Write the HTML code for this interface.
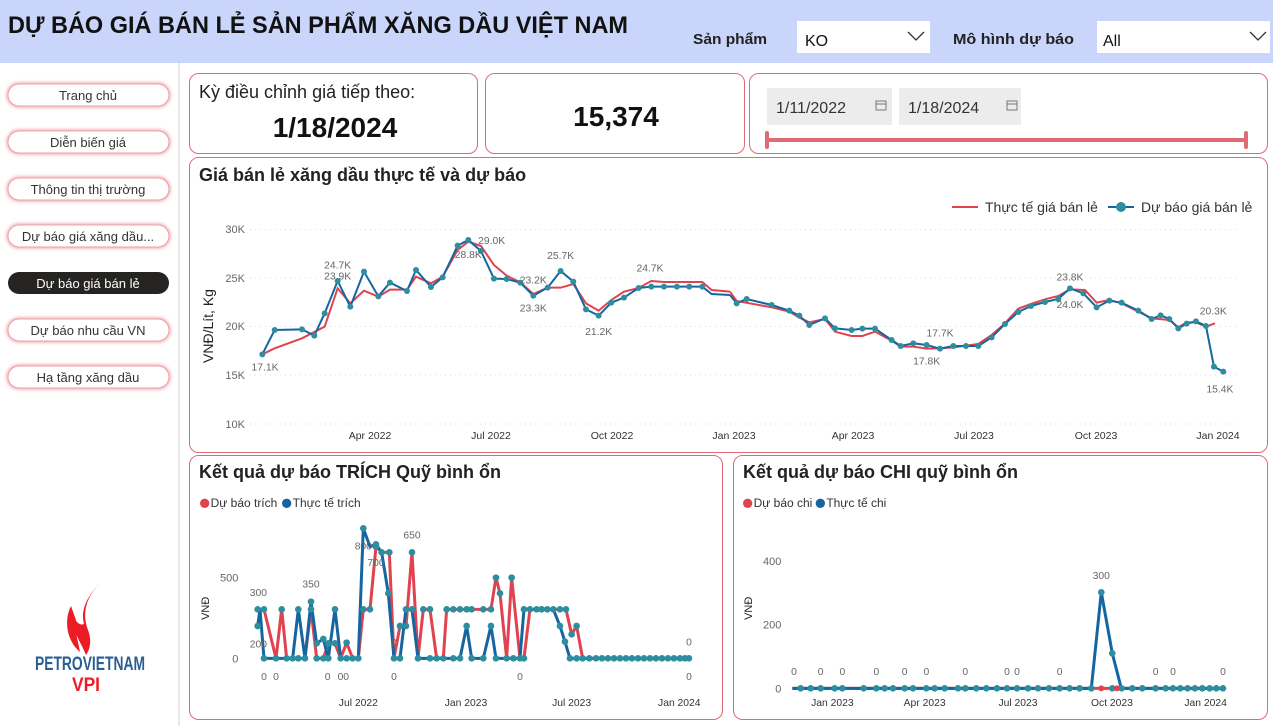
<!DOCTYPE html>
<html><head><meta charset="utf-8"><style>
html,body{margin:0;padding:0;background:#fff;}
svg{display:block;font-family:"Liberation Sans","DejaVu Sans",sans-serif;}
</style></head><body>
<svg width="1273" height="726" viewBox="0 0 1273 726" xmlns="http://www.w3.org/2000/svg">
<defs>
<filter id="glow" x="-10%" y="-40%" width="120%" height="180%"><feGaussianBlur stdDeviation="1.5"/></filter>
</defs>
<rect width="1273" height="726" fill="#fff"/>
<rect x="0" y="0" width="1273" height="63" fill="#c9d5fb"/>
<text x="8" y="33" font-size="24" font-weight="bold" fill="#111" textLength="620" lengthAdjust="spacingAndGlyphs">DỰ BÁO GIÁ BÁN LẺ SẢN PHẨM XĂNG DẦU VIỆT NAM</text>
<text x="693" y="44" font-size="15" font-weight="bold" fill="#222" textLength="74" lengthAdjust="spacingAndGlyphs">Sản phẩm</text>
<rect x="797" y="21" width="133" height="32" fill="#fff"/>
<text x="805" y="46" font-size="16" fill="#111">KO</text>
<polyline points="908,32 916,40 924,32" fill="none" stroke="#333" stroke-width="1.3"/>
<text x="953" y="44" font-size="15" font-weight="bold" fill="#222" textLength="121" lengthAdjust="spacingAndGlyphs">Mô hình dự báo</text>
<rect x="1097" y="21" width="173" height="32" fill="#fff"/>
<text x="1103" y="46" font-size="16" fill="#111">All</text>
<polyline points="1250,32 1258,40 1266,32" fill="none" stroke="#333" stroke-width="1.3"/>
<line x1="179" y1="63" x2="179" y2="726" stroke="#e8e8e8" stroke-width="2"/>
<g font-size="13" text-anchor="middle" fill="#333">
<g><rect x="8" y="84" width="161" height="22" rx="11" fill="none" stroke="#f2a0a8" stroke-width="3" filter="url(#glow)"/><rect x="8" y="84" width="161" height="22" rx="11" fill="#fff" stroke="#eba0a8"/><text x="88" y="100">Trang chủ</text></g>
<g><rect x="8" y="131" width="161" height="22" rx="11" fill="none" stroke="#f2a0a8" stroke-width="3" filter="url(#glow)"/><rect x="8" y="131" width="161" height="22" rx="11" fill="#fff" stroke="#eba0a8"/><text x="88" y="147">Diễn biến giá</text></g>
<g><rect x="8" y="178" width="161" height="22" rx="11" fill="none" stroke="#f2a0a8" stroke-width="3" filter="url(#glow)"/><rect x="8" y="178" width="161" height="22" rx="11" fill="#fff" stroke="#eba0a8"/><text x="88" y="194">Thông tin thị trường</text></g>
<g><rect x="8" y="225" width="161" height="22" rx="11" fill="none" stroke="#f2a0a8" stroke-width="3" filter="url(#glow)"/><rect x="8" y="225" width="161" height="22" rx="11" fill="#fff" stroke="#eba0a8"/><text x="88" y="241">Dự báo giá xăng dầu...</text></g>
<g><rect x="8" y="272" width="161" height="22" rx="11" fill="#252423"/><text x="88" y="288" fill="#fff">Dự báo giá bán lẻ</text></g>
<g><rect x="8" y="319" width="161" height="22" rx="11" fill="none" stroke="#f2a0a8" stroke-width="3" filter="url(#glow)"/><rect x="8" y="319" width="161" height="22" rx="11" fill="#fff" stroke="#eba0a8"/><text x="88" y="335">Dự báo nhu cầu VN</text></g>
<g><rect x="8" y="366" width="161" height="22" rx="11" fill="none" stroke="#f2a0a8" stroke-width="3" filter="url(#glow)"/><rect x="8" y="366" width="161" height="22" rx="11" fill="#fff" stroke="#eba0a8"/><text x="88" y="382">Hạ tầng xăng dầu</text></g>
</g>
<path d="M100,583 C85,598 82,615 88,630 C92,640 90,650 86,655 C80,640 72,632 73,616 C76,622 80,626 84,624 C80,610 88,595 100,583 Z" fill="#ed1c24"/>
<path d="M71,606 C64,620 66,640 80,652 C78,640 74,630 76,620 Z" fill="#ed1c24"/>
<text x="90" y="670" font-size="19" font-weight="bold" fill="#2a5f93" text-anchor="middle" textLength="110" lengthAdjust="spacingAndGlyphs">PETROVIETNAM</text>
<text x="86" y="691" font-size="19" font-weight="bold" fill="#ed1c24" text-anchor="middle" textLength="28" lengthAdjust="spacingAndGlyphs">VPI</text>

<rect x="189.5" y="73.5" width="288" height="80" rx="9" fill="#fff" stroke="#e06a75"/>
<text x="199" y="98" font-size="18" fill="#222">Kỳ điều chỉnh giá tiếp theo:</text>
<text x="335" y="137" font-size="28" font-weight="bold" fill="#111" text-anchor="middle">1/18/2024</text>
<rect x="485.5" y="73.5" width="259" height="80" rx="9" fill="#fff" stroke="#e06a75"/>
<text x="616" y="126" font-size="28" font-weight="bold" fill="#111" text-anchor="middle">15,374</text>
<rect x="749.5" y="73.5" width="518" height="80" rx="9" fill="#fff" stroke="#e06a75"/>
<rect x="767" y="88" width="125" height="37" fill="#ececec"/>
<text x="776" y="113" font-size="16" fill="#333">1/11/2022</text>
<rect x="876" y="101" width="10" height="9" fill="none" stroke="#777"/><line x1="876" y1="104" x2="886" y2="104" stroke="#777"/>
<rect x="899" y="88" width="122" height="37" fill="#ececec"/>
<text x="908" y="113" font-size="16" fill="#333">1/18/2024</text>
<rect x="1007" y="101" width="10" height="9" fill="none" stroke="#777"/><line x1="1007" y1="104" x2="1017" y2="104" stroke="#777"/>
<line x1="767" y1="140" x2="1246" y2="140" stroke="#e06b73" stroke-width="4"/>
<line x1="767" y1="133" x2="767" y2="147" stroke="#e06b73" stroke-width="4" stroke-linecap="round"/>
<line x1="1246" y1="133" x2="1246" y2="147" stroke="#e06b73" stroke-width="4" stroke-linecap="round"/>

<rect x="189.5" y="157.5" width="1078" height="295" rx="9" fill="#fff" stroke="#e06a75"/>
<text x="199" y="181" font-size="18" font-weight="bold" fill="#222">Giá bán lẻ xăng dầu thực tế và dự báo</text>
<line x1="952" y1="207" x2="978" y2="207" stroke="#e0434f" stroke-width="2"/>
<text x="985" y="212" font-size="14" fill="#333">Thực tế giá bán lẻ</text>
<line x1="1108" y1="207" x2="1134" y2="207" stroke="#1566a0" stroke-width="2"/>
<circle cx="1121" cy="207" r="5" fill="#2c8e9f"/>
<text x="1141" y="212" font-size="14" fill="#333">Dự báo giá bán lẻ</text>
<g stroke="#ddd" stroke-dasharray="1,4">
<line x1="250" y1="229.5" x2="1240" y2="229.5"/><line x1="250" y1="278" x2="1240" y2="278"/><line x1="250" y1="326.5" x2="1240" y2="326.5"/><line x1="250" y1="375" x2="1240" y2="375"/><line x1="250" y1="424" x2="1240" y2="424"/>
</g>
<g font-size="11" fill="#666" text-anchor="end">
<text x="245" y="233">30K</text><text x="245" y="282">25K</text><text x="245" y="330">20K</text><text x="245" y="379">15K</text><text x="245" y="428">10K</text>
</g>
<text transform="translate(213,326) rotate(-90)" font-size="14" fill="#222" text-anchor="middle">VNĐ/Lít, Kg</text>
<g font-size="10.5" fill="#333" text-anchor="middle">
<text x="370" y="439">Apr 2022</text><text x="491" y="439">Jul 2022</text><text x="612" y="439">Oct 2022</text><text x="734" y="439">Jan 2023</text><text x="853" y="439">Apr 2023</text><text x="974" y="439">Jul 2023</text><text x="1096" y="439">Oct 2023</text><text x="1218" y="439">Jan 2024</text>
</g>
<g transform="translate(190,220) scale(0.3333)">
<polyline fill="none" stroke="#e0434f" stroke-width="2" vector-effect="non-scaling-stroke" points="217,403 254,385 336,355 404,320 443,205 481,250 522,212 565,230 600,209 651,209 678,170 723,190 758,170 803,90 835,65 873,78 912,135 950,167 991,187 1030,222 1073,203 1112,203 1150,192 1188,250 1226,272 1264,240 1302,215 1346,204 1384,183 1422,186 1537,186 1565,210 1620,215"/>
<polyline fill="none" stroke="#1566a0" stroke-width="2" vector-effect="non-scaling-stroke" points="217,403 254,330 336,328 373,347 404,280 443,183 481,260 522,155 565,229 600,188 651,213 678,150 723,201 758,172 803,77 835,60 873,93 912,176 950,177 991,188 1030,227 1073,203 1112,153 1150,185 1188,268 1226,287 1264,248 1302,233 1346,204 1384,200 1422,200 1461,200 1498,200 1537,200 1565,222 1620,225"/>
<g fill="#2c8e9f">
<circle cx="217" cy="403" r="9"/><circle cx="254" cy="330" r="9"/><circle cx="336" cy="328" r="9"/><circle cx="373" cy="347" r="9"/><circle cx="404" cy="280" r="9"/><circle cx="443" cy="183" r="9"/><circle cx="481" cy="260" r="9"/><circle cx="522" cy="155" r="9"/><circle cx="565" cy="229" r="9"/><circle cx="600" cy="188" r="9"/><circle cx="651" cy="213" r="9"/><circle cx="678" cy="150" r="9"/><circle cx="723" cy="201" r="9"/><circle cx="758" cy="172" r="9"/><circle cx="803" cy="77" r="9"/><circle cx="835" cy="60" r="9"/><circle cx="873" cy="93" r="9"/><circle cx="912" cy="176" r="9"/><circle cx="950" cy="177" r="9"/><circle cx="991" cy="188" r="9"/><circle cx="1030" cy="227" r="9"/><circle cx="1073" cy="203" r="9"/><circle cx="1112" cy="153" r="9"/><circle cx="1150" cy="185" r="9"/><circle cx="1188" cy="268" r="9"/><circle cx="1226" cy="287" r="9"/><circle cx="1264" cy="248" r="9"/><circle cx="1302" cy="233" r="9"/><circle cx="1346" cy="204" r="9"/><circle cx="1384" cy="200" r="9"/><circle cx="1422" cy="200" r="9"/><circle cx="1461" cy="200" r="9"/><circle cx="1498" cy="200" r="9"/><circle cx="1537" cy="200" r="9"/>
</g>
<g font-size="31" fill="#666" text-anchor="middle">
<text x="225" y="452">17.1K</text><text x="443" y="145">24.7K</text><text x="443" y="178">23.9K</text><text x="835" y="114">28.8K</text><text x="905" y="72">29.0K</text><text x="1030" y="191">23.2K</text><text x="1030" y="275">23.3K</text><text x="1112" y="117">25.7K</text><text x="1226" y="345">21.2K</text><text x="1380" y="155">24.7K</text>
</g>
</g>
<g transform="translate(730,220) scale(0.3333)">
<polyline fill="none" stroke="#e0434f" stroke-width="2" vector-effect="non-scaling-stroke" points="0,215 20,243 125,262 178,275 208,293 238,307 285,297 315,335 365,348 397,348 435,335 485,362 512,380 550,380 590,386 630,385 670,382 745,372 785,345 825,310 865,266 903,252 945,238 985,228 1020,208 1065,210 1100,248 1138,240 1175,250 1225,275 1265,295 1318,300 1345,322 1370,307 1398,307 1428,320 1455,310"/>
<polyline fill="none" stroke="#1566a0" stroke-width="2" vector-effect="non-scaling-stroke" points="0,225 20,250 50,237 125,255 178,272 208,287 238,315 285,295 315,325 365,330 397,326 435,326 485,360 512,378 550,370 590,375 630,386 670,378 708,378 745,378 785,352 825,312 865,276 903,258 945,246 985,237 1020,205 1060,220 1100,262 1138,242 1175,248 1225,272 1265,297 1292,286 1318,297 1345,325 1370,311 1398,304 1428,318 1452,440 1480,455"/>
<g fill="#2c8e9f">
<circle cx="20" cy="250" r="9"/><circle cx="50" cy="237" r="9"/><circle cx="125" cy="255" r="9"/><circle cx="178" cy="272" r="9"/><circle cx="208" cy="287" r="9"/><circle cx="238" cy="315" r="9"/><circle cx="285" cy="295" r="9"/><circle cx="315" cy="325" r="9"/><circle cx="365" cy="330" r="9"/><circle cx="397" cy="326" r="9"/><circle cx="435" cy="326" r="9"/><circle cx="485" cy="360" r="9"/><circle cx="512" cy="378" r="9"/><circle cx="550" cy="370" r="9"/><circle cx="590" cy="375" r="9"/><circle cx="630" cy="386" r="9"/><circle cx="670" cy="378" r="9"/><circle cx="708" cy="378" r="9"/><circle cx="745" cy="378" r="9"/><circle cx="785" cy="352" r="9"/><circle cx="825" cy="312" r="9"/><circle cx="865" cy="276" r="9"/><circle cx="903" cy="258" r="9"/><circle cx="945" cy="246" r="9"/><circle cx="985" cy="237" r="9"/><circle cx="1020" cy="205" r="9"/><circle cx="1060" cy="220" r="9"/><circle cx="1100" cy="262" r="9"/><circle cx="1138" cy="242" r="9"/><circle cx="1175" cy="248" r="9"/><circle cx="1225" cy="272" r="9"/><circle cx="1265" cy="297" r="9"/><circle cx="1292" cy="286" r="9"/><circle cx="1318" cy="297" r="9"/><circle cx="1345" cy="325" r="9"/><circle cx="1370" cy="311" r="9"/><circle cx="1398" cy="304" r="9"/><circle cx="1428" cy="318" r="9"/><circle cx="1452" cy="440" r="9"/><circle cx="1480" cy="455" r="9"/>
</g>
<g font-size="31" fill="#666" text-anchor="middle">
<text x="1020" y="182">23.8K</text><text x="1020" y="264">24.0K</text><text x="630" y="349">17.7K</text><text x="590" y="434">17.8K</text><text x="1450" y="283">20.3K</text><text x="1470" y="517">15.4K</text>
</g>
</g>

<rect x="189.5" y="455.5" width="533" height="264" rx="9" fill="#fff" stroke="#e06a75"/>
<text x="199" y="478" font-size="18" font-weight="bold" fill="#222">Kết quả dự báo TRÍCH Quỹ bình ổn</text>
<g transform="translate(190,490) scale(0.3333)">
<circle cx="44" cy="40" r="14" fill="#e0434f"/><text x="62" y="51" font-size="36" fill="#333">Dự báo trích</text>
<circle cx="290" cy="40" r="14" fill="#1566a0"/><text x="308" y="51" font-size="36" fill="#333">Thực tế trích</text>
<g font-size="33" fill="#666" text-anchor="end"><text x="145" y="275">500</text><text x="145" y="517">0</text></g>
<text transform="translate(57,355) rotate(-90)" font-size="33" fill="#222" text-anchor="middle">VNĐ</text>
<g font-size="31" fill="#333" text-anchor="middle"><text x="505" y="648">Jul 2022</text><text x="828" y="648">Jan 2023</text><text x="1145" y="648">Jul 2023</text><text x="1468" y="648">Jan 2024</text></g>
<polyline fill="none" stroke="#e0434f" stroke-width="3" vector-effect="non-scaling-stroke" stroke-linejoin="round" points="203,358 222,358 258,505 275,358 290,505 325,505 345,505 363,358 380,505 400,505 415,460 435,460 452,505 470,458 488,505 505,505 520,358 540,358 558,170 575,187 598,187 612,505 630,408 648,408 666,187 684,505 700,358 720,358 740,505 760,505 770,358 903,358 918,263 930,310 950,505 965,263 990,505 1002,505 1020,358 1128,358 1145,433 1160,408 1178,505 1497,505"/>
<polyline fill="none" stroke="#1566a0" stroke-width="3" vector-effect="non-scaling-stroke" stroke-linejoin="round" points="203,408 210,358 222,505 258,505 308,505 325,358 345,505 363,335 380,460 400,447 415,505 435,358 452,505 505,505 520,115 540,170 558,163 575,187 595,310 612,505 630,505 648,358 666,358 684,505 810,505 830,408 845,505 880,505 903,408 918,505 990,505 1002,358 1090,358 1110,408 1125,455 1140,505 1497,505"/>
<g fill="#2c8e9f">
<circle cx="203" cy="408" r="10"/><circle cx="203" cy="358" r="10"/><circle cx="222" cy="358" r="10"/><circle cx="222" cy="505" r="10"/><circle cx="258" cy="505" r="10"/><circle cx="275" cy="358" r="10"/><circle cx="290" cy="505" r="10"/><circle cx="308" cy="505" r="10"/><circle cx="325" cy="358" r="10"/><circle cx="325" cy="505" r="10"/><circle cx="345" cy="505" r="10"/><circle cx="363" cy="335" r="10"/><circle cx="363" cy="358" r="10"/><circle cx="380" cy="460" r="10"/><circle cx="380" cy="505" r="10"/><circle cx="400" cy="447" r="10"/><circle cx="400" cy="505" r="10"/><circle cx="415" cy="460" r="10"/><circle cx="415" cy="505" r="10"/><circle cx="435" cy="358" r="10"/><circle cx="435" cy="460" r="10"/><circle cx="452" cy="505" r="10"/><circle cx="470" cy="458" r="10"/><circle cx="470" cy="505" r="10"/><circle cx="488" cy="505" r="10"/><circle cx="505" cy="505" r="10"/><circle cx="520" cy="115" r="10"/><circle cx="520" cy="358" r="10"/><circle cx="540" cy="358" r="10"/><circle cx="558" cy="163" r="10"/><circle cx="558" cy="170" r="10"/><circle cx="575" cy="187" r="10"/><circle cx="598" cy="187" r="10"/><circle cx="595" cy="310" r="10"/><circle cx="612" cy="505" r="10"/><circle cx="630" cy="505" r="10"/><circle cx="630" cy="408" r="10"/><circle cx="648" cy="408" r="10"/><circle cx="648" cy="358" r="10"/><circle cx="666" cy="358" r="10"/><circle cx="666" cy="187" r="10"/><circle cx="684" cy="505" r="10"/><circle cx="700" cy="358" r="10"/><circle cx="720" cy="358" r="10"/><circle cx="720" cy="505" r="10"/><circle cx="740" cy="505" r="10"/><circle cx="760" cy="505" r="10"/><circle cx="770" cy="358" r="10"/><circle cx="790" cy="505" r="10"/><circle cx="790" cy="358" r="10"/><circle cx="810" cy="358" r="10"/><circle cx="810" cy="505" r="10"/><circle cx="830" cy="408" r="10"/><circle cx="830" cy="358" r="10"/><circle cx="845" cy="505" r="10"/><circle cx="845" cy="358" r="10"/><circle cx="880" cy="505" r="10"/><circle cx="880" cy="358" r="10"/><circle cx="903" cy="408" r="10"/><circle cx="903" cy="358" r="10"/><circle cx="918" cy="263" r="10"/><circle cx="918" cy="505" r="10"/><circle cx="930" cy="310" r="10"/><circle cx="950" cy="505" r="10"/><circle cx="965" cy="263" r="10"/><circle cx="970" cy="505" r="10"/><circle cx="990" cy="505" r="10"/><circle cx="1002" cy="505" r="10"/><circle cx="1002" cy="358" r="10"/><circle cx="1020" cy="358" r="10"/><circle cx="1040" cy="358" r="10"/><circle cx="1055" cy="358" r="10"/><circle cx="1072" cy="358" r="10"/><circle cx="1090" cy="358" r="10"/><circle cx="1110" cy="408" r="10"/><circle cx="1110" cy="358" r="10"/><circle cx="1128" cy="358" r="10"/><circle cx="1125" cy="455" r="10"/><circle cx="1145" cy="433" r="10"/><circle cx="1160" cy="408" r="10"/><circle cx="1140" cy="505" r="10"/><circle cx="1160" cy="505" r="10"/><circle cx="1178" cy="505" r="10"/><circle cx="1198" cy="505" r="10"/><circle cx="1218" cy="505" r="10"/><circle cx="1236" cy="505" r="10"/><circle cx="1254" cy="505" r="10"/><circle cx="1272" cy="505" r="10"/><circle cx="1290" cy="505" r="10"/><circle cx="1308" cy="505" r="10"/><circle cx="1326" cy="505" r="10"/><circle cx="1344" cy="505" r="10"/><circle cx="1362" cy="505" r="10"/><circle cx="1380" cy="505" r="10"/><circle cx="1398" cy="505" r="10"/><circle cx="1416" cy="505" r="10"/><circle cx="1434" cy="505" r="10"/><circle cx="1452" cy="505" r="10"/><circle cx="1470" cy="505" r="10"/><circle cx="1485" cy="505" r="10"/><circle cx="1497" cy="505" r="10"/>
</g>
<g font-size="31" fill="#666" text-anchor="middle">
<text x="205" y="318">300</text><text x="205" y="472">200</text><text x="363" y="292">350</text><text x="520" y="178">800</text><text x="558" y="228">700</text><text x="666" y="145">650</text><text x="612" y="468">0</text><text x="1497" y="466">0</text>
<text x="222" y="570">0</text><text x="258" y="570">0</text><text x="413" y="570">0</text><text x="460" y="570">00</text><text x="612" y="570">0</text><text x="990" y="570">0</text><text x="1497" y="570">0</text>
</g>
</g>

<rect x="733.5" y="455.5" width="534" height="264" rx="9" fill="#fff" stroke="#e06a75"/>
<text x="743" y="478" font-size="18" font-weight="bold" fill="#222">Kết quả dự báo CHI quỹ bình ổn</text>
<g transform="translate(733,490) scale(0.3333)">
<circle cx="44" cy="40" r="14" fill="#e0434f"/><text x="62" y="51" font-size="36" fill="#333">Dự báo chi</text>
<circle cx="262" cy="40" r="14" fill="#1566a0"/><text x="280" y="51" font-size="36" fill="#333">Thực tế chi</text>
<g font-size="33" fill="#666" text-anchor="end"><text x="145" y="225">400</text><text x="145" y="415">200</text><text x="145" y="607">0</text></g>
<text transform="translate(57,355) rotate(-90)" font-size="33" fill="#222" text-anchor="middle">VNĐ</text>
<g font-size="31" fill="#333" text-anchor="middle"><text x="298" y="648">Jan 2023</text><text x="575" y="648">Apr 2023</text><text x="855" y="648">Jul 2023</text><text x="1137" y="648">Oct 2023</text><text x="1418" y="648">Jan 2024</text></g>
<polyline fill="none" stroke="#e0434f" stroke-width="3" vector-effect="non-scaling-stroke" points="178,595 1470,595"/>
<polyline fill="none" stroke="#1566a0" stroke-width="3" vector-effect="non-scaling-stroke" points="178,595 1075,595 1105,307 1138,490 1165,595 1470,595"/>
<g fill="#2c8e9f">
<circle cx="203" cy="595" r="10"/><circle cx="233" cy="595" r="10"/><circle cx="263" cy="595" r="10"/><circle cx="305" cy="595" r="10"/><circle cx="328" cy="595" r="10"/><circle cx="392" cy="595" r="10"/><circle cx="430" cy="595" r="10"/><circle cx="455" cy="595" r="10"/><circle cx="480" cy="595" r="10"/><circle cx="515" cy="595" r="10"/><circle cx="540" cy="595" r="10"/><circle cx="580" cy="595" r="10"/><circle cx="605" cy="595" r="10"/><circle cx="635" cy="595" r="10"/><circle cx="675" cy="595" r="10"/><circle cx="697" cy="595" r="10"/><circle cx="730" cy="595" r="10"/><circle cx="760" cy="595" r="10"/><circle cx="792" cy="595" r="10"/><circle cx="822" cy="595" r="10"/><circle cx="852" cy="595" r="10"/><circle cx="885" cy="595" r="10"/><circle cx="915" cy="595" r="10"/><circle cx="948" cy="595" r="10"/><circle cx="980" cy="595" r="10"/><circle cx="1010" cy="595" r="10"/><circle cx="1040" cy="595" r="10"/><circle cx="1075" cy="595" r="10"/><circle cx="1105" cy="307" r="10"/><circle cx="1138" cy="490" r="10"/><circle cx="1138" cy="595" r="10"/><circle cx="1166" cy="595" r="10"/><circle cx="1198" cy="595" r="10"/><circle cx="1228" cy="595" r="10"/><circle cx="1268" cy="595" r="10"/><circle cx="1298" cy="595" r="10"/><circle cx="1320" cy="595" r="10"/><circle cx="1342" cy="595" r="10"/><circle cx="1364" cy="595" r="10"/><circle cx="1386" cy="595" r="10"/><circle cx="1408" cy="595" r="10"/><circle cx="1430" cy="595" r="10"/><circle cx="1450" cy="595" r="10"/><circle cx="1470" cy="595" r="10"/>
</g>
<circle cx="1105" cy="595" r="9" fill="#e0434f"/><circle cx="1152" cy="595" r="9" fill="#e0434f"/>
<g font-size="31" fill="#666" text-anchor="middle">
<text x="1105" y="267">300</text>
<text x="183" y="555">0</text><text x="263" y="555">0</text><text x="328" y="555">0</text><text x="430" y="555">0</text><text x="515" y="555">0</text><text x="580" y="555">0</text><text x="697" y="555">0</text><text x="822" y="555">0</text><text x="852" y="555">0</text><text x="980" y="555">0</text><text x="1268" y="555">0</text><text x="1320" y="555">0</text><text x="1470" y="555">0</text>
</g>
</g>
</svg>
</body></html>
